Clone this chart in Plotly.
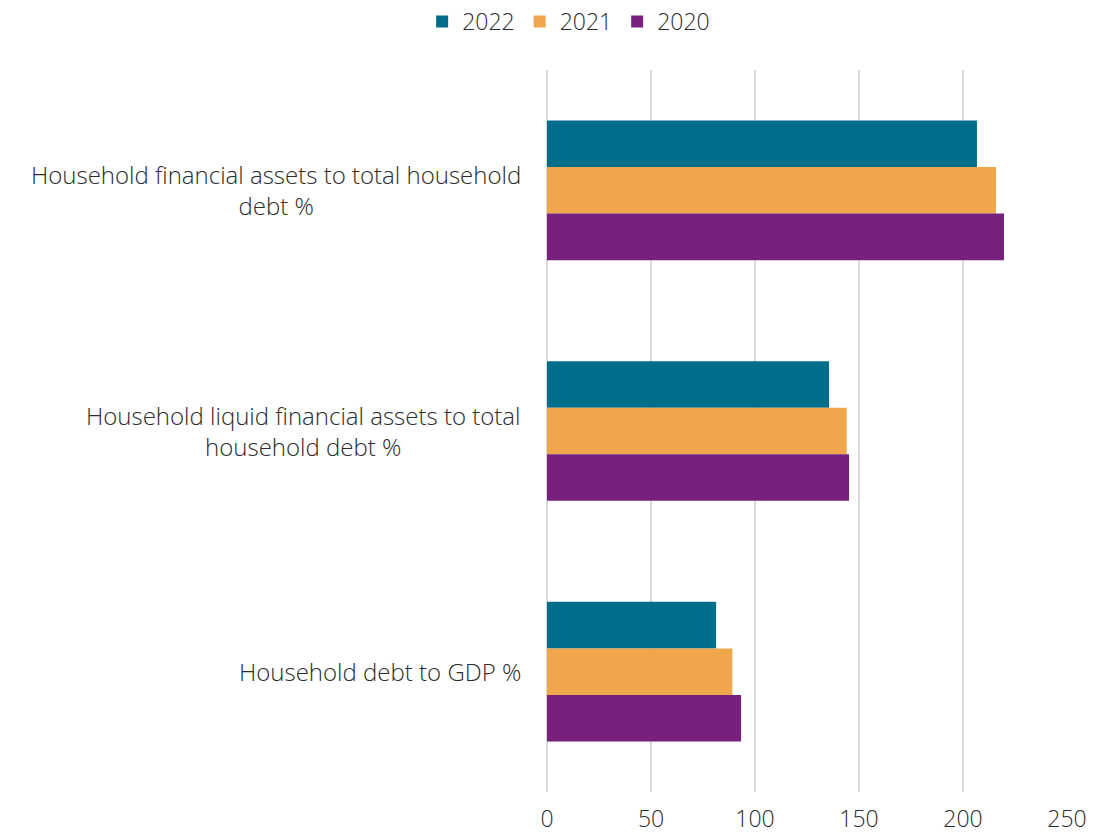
import plotly.graph_objects as go

categories = [
    "Household financial assets to total household<br>debt %",
    "Household liquid financial assets to total<br>household debt %",
    "Household debt to GDP %",
]
years = ["2022", "2021", "2020"]
values_2022 = [206.7, 135.6, 81.3]
values_2021 = [215.9, 144.1, 89.1]
values_2020 = [219.7, 145.2, 93.3]
x_ticks = [0, 50, 100, 150, 200, 250]

colors = {"2022": "#006E8A", "2021": "#F0A64A", "2020": "#77207D"}
series = {"2022": values_2022, "2021": values_2021, "2020": values_2020}

font_family = "'Open Sans', Roboto, sans-serif"
text_color = "#2B2B2B"

fig = go.Figure()
for yr in years:
    fig.add_trace(go.Bar(
        name=yr,
        y=categories,
        x=series[yr],
        orientation="h",
        marker=dict(color=colors[yr], line=dict(width=0)),
    ))

for cat in categories:
    fig.add_annotation(
        x=0, xref="paper", y=cat, yref="y",
        text=cat, showarrow=False,
        xanchor="right", yanchor="middle", align="center",
        xshift=-24,
        font=dict(family=font_family, size=24, color=text_color, weight=300),
    )

fig.update_layout(
    width=1115, height=834,
    margin=dict(l=547, r=48, t=70, b=42, autoexpand=False),
    paper_bgcolor="white", plot_bgcolor="white",
    barmode="group",
    bargap=0.42,
    bargroupgap=0,
    font=dict(family=font_family, size=23, color=text_color, weight=300),
    showlegend=True,
    legend=dict(
        orientation="h",
        x=0.51, xref="container", xanchor="center",
        y=1.0, yref="container", yanchor="top",
        font=dict(family=font_family, size=23, color=text_color, weight=300),
        traceorder="normal",
        itemwidth=30,
    ),
    xaxis=dict(
        range=[0, 250],
        tickvals=x_ticks,
        showgrid=True, gridcolor="#D9D9D9", gridwidth=2,
        zeroline=True, zerolinecolor="#D9D9D9", zerolinewidth=2,
        showline=False, automargin=False,
        ticks="", ticklabelstandoff=11,
        tickfont=dict(family=font_family, size=23, color=text_color, weight=300),
    ),
    yaxis=dict(
        autorange="reversed",
        showticklabels=False, automargin=False,
        showgrid=False, zeroline=False, showline=False,
    ),
)

fig.write_html("out.html")
